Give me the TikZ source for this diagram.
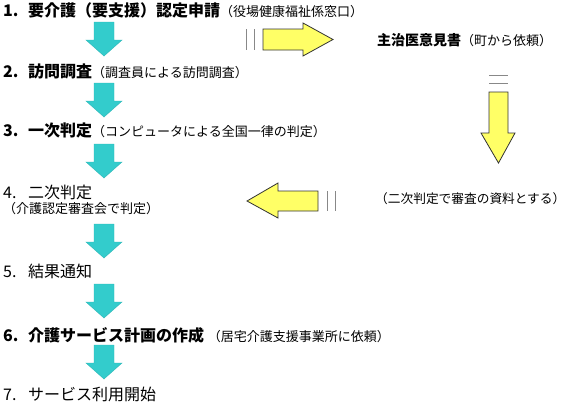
\documentclass[tikz,border=0pt]{standalone}
\usepackage{fontspec}
\setmainfont{Noto Sans CJK JP}
\definecolor{arrcyan}{HTML}{33CCCC}
\definecolor{arrcyanedge}{HTML}{2BB5B5}
\definecolor{arryellow}{HTML}{FFFF66}
\definecolor{baredge}{HTML}{888888}
\newcommand{\bigfs}{\fontsize{16pt}{18pt}\selectfont}
\newcommand{\smallfs}{\fontsize{13pt}{15pt}\selectfont}
\newcommand{\midfs}{\fontsize{14pt}{16pt}\selectfont}
\newcommand{\numbox}[1]{\makebox[25pt][l]{#1}}
\begin{document}
\begin{tikzpicture}[x=1pt,y=-1pt,
  stepnode/.style={anchor=base west,inner sep=0pt,font=\bigfs},
  subnode/.style={anchor=base west,inner sep=0pt,font=\smallfs},
  cyanarrow/.pic={
    \filldraw[fill=arrcyan,draw=arrcyanedge,line width=0.4pt,line join=miter]
      (-10,0) -- (10,0) -- (10,18) -- (18,18) -- (0,34) -- (-18,18) -- (-10,18) -- cycle;
  },
  yarrow/.style={fill=arryellow,draw=black!80,line width=0.8pt,line join=miter},
  barline/.style={draw=baredge,line width=0.8pt}
]
\useasboundingbox (0,0) rectangle (568,405);

% left column steps
\node[stepnode] (s1) at (3,16) {\textbf{\numbox{1.}要介護（要支援）認定申請}{\smallfs（役場健康福祉係窓口）}};
\node[stepnode] (s2) at (3,77) {\textbf{\numbox{2.}訪問調査}{\smallfs（調査員による訪問調査）}};
\node[stepnode] (s3) at (3,136) {\textbf{\numbox{3.}一次判定}{\smallfs（コンピュータによる全国一律の判定）}};
\node[stepnode] (s4) at (3,198) {\numbox{4.}二次判定};
\node[subnode] (s4b) at (3,213) {（介護認定審査会で判定）};
\node[stepnode] (s5) at (3,277) {\numbox{5.}結果通知};
\node[stepnode] (s6) at (3,341) {\textbf{\numbox{6.}介護サービス計画の作成} {\smallfs（居宅介護支援事業所に依頼）}};
\node[stepnode] (s7) at (3,400) {\numbox{7.}サービス利用開始};

% cyan down arrows
\pic at (104,22) {cyanarrow};
\pic at (104,83) {cyanarrow};
\pic at (104,144) {cyanarrow};
\pic at (104,224) {cyanarrow};
\pic at (104,284) {cyanarrow};
\pic at (104,345) {cyanarrow};

% right column texts
\node[anchor=base west,inner sep=0pt,font=\midfs] (doc) at (377,45) {\textbf{主治医意見書}{\smallfs（町から依頼）}};
\node[anchor=base west,inner sep=0pt,font=\fontsize{12.7pt}{15pt}\selectfont] (use) at (375,203) {（二次判定で審査の資料とする）};

% yellow arrow to the right
\draw[barline] (246,29) -- (246,50) (254,29) -- (254,50);
\filldraw[yarrow] (263,29) -- (303,29) -- (303,23) -- (333,39.5) -- (303,56) -- (303,50) -- (263,50) -- cycle;

% yellow arrow down
\draw[barline] (489,75) -- (508,75) (489,83) -- (508,83);
\filldraw[yarrow] (489,92) -- (508,92) -- (508,133) -- (515,133) -- (498.5,163) -- (481,133) -- (489,133) -- cycle;

% yellow arrow to the left
\draw[barline] (327,191) -- (327,211) (335,191) -- (335,211);
\filldraw[yarrow] (318,191) -- (278,191) -- (278,183) -- (247,201) -- (278,218) -- (278,211) -- (318,211) -- cycle;
\end{tikzpicture}
\end{document}
